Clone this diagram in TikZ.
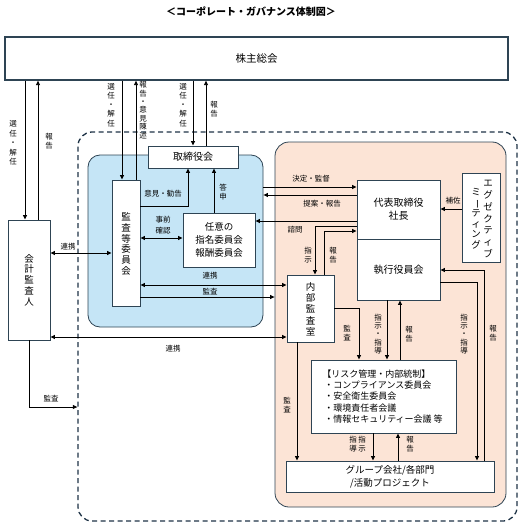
\documentclass[tikz,border=0pt]{standalone}
\usepackage{fontspec}
\setmainfont{Noto Sans CJK JP}
\usetikzlibrary{arrows.meta}
\definecolor{bluefill}{HTML}{C5E5F6}
\definecolor{salmonfill}{HTML}{FCE4D6}
\definecolor{edge}{HTML}{2E4454}
\definecolor{dashc}{HTML}{1E3346}
\newcommand\vlong{\rotatebox[origin=c]{-90}{ー}}
\begin{document}
\begin{tikzpicture}[x=1pt,y=-1pt,
 box/.style={draw=edge, line width=0.9pt, fill=white, inner sep=0pt, align=center, font=\fontsize{9.5}{11}\selectfont},
 region/.style={draw=edge, line width=0.8pt, rounded corners=12pt, inner sep=0pt},
 arr/.style={-{Triangle[length=4.5pt,width=4pt]}, line width=0.9pt},
 darr/.style={{Triangle[length=4.5pt,width=4pt]}-{Triangle[length=4.5pt,width=4pt]}, line width=0.9pt},
 lab/.style={inner sep=0pt, align=center, font=\fontsize{7.5}{9}\selectfont},
 vbox/.style={inner sep=0pt, align=center, font=\fontsize{9.5}{10.8}\selectfont},
]
\useasboundingbox (0,0) rectangle (523,527);

% title
\node[inner sep=0pt, font=\fontsize{10}{12}\selectfont\bfseries] (title) at (251,12) {＜コーポレート・ガバナンス体制図＞};

% regions
\node[region, draw=dashc, line width=1.3pt, dash pattern=on 5pt off 3.5pt, rounded corners=14pt, minimum width=439pt, minimum height=389pt] (dash) at (297.5,326.5) {};
\node[region, fill=bluefill, minimum width=175pt, minimum height=172pt] (blue) at (175.5,241) {};
\node[region, fill=salmonfill, rounded corners=14pt, minimum width=231pt, minimum height=365pt] (salmon) at (390.5,324.5) {};

% boxes
\node[box, line width=1.3pt, font=\fontsize{10.5}{12}\selectfont, minimum width=503pt, minimum height=43pt] (kabu) at (256.5,58.5) {株主総会};
\node[box, minimum width=42pt, minimum height=120pt] (kaikei) at (29,280) {};
\node[vbox] (kaikeit) at (kaikei.center) {会\\計\\監\\査\\人};
\node[box, font=\fontsize{10}{12}\selectfont, minimum width=90pt, minimum height=22pt] (tori) at (193,157) {取締役会};
\node[box, minimum width=28pt, minimum height=126pt] (kansa) at (126,243) {};
\node[vbox] (kansat) at (126,244) {監\\査\\等\\委\\員\\会};
\node[box, font=\fontsize{9.5}{13}\selectfont, minimum width=72pt, minimum height=54pt] (nini) at (219,240) {任意の\\指名委員会\\報酬委員会};
\node[box, font=\fontsize{10}{13}\selectfont, minimum width=83pt, minimum height=59pt] (daihyo) at (398.5,209.5) {代表取締役\\社長};
\node[box, font=\fontsize{10}{12}\selectfont, minimum width=83pt, minimum height=61pt] (shikko) at (398.5,269.5) {執行役員会};
\node[box, minimum width=38pt, minimum height=89pt] (exec) at (481,217.5) {};
\node[vbox, font=\fontsize{9.5}{11.8}\selectfont] (execR) at (488,219) {エ\\グ\\ゼ\\ク\\テ\\ィ\\ブ};
\node[vbox, font=\fontsize{9.5}{10.6}\selectfont] (execL) at (476,218.5) {ミ\\\vlong\\テ\\ィ\\ン\\グ};
\node[box, minimum width=47pt, minimum height=67pt] (naibu) at (310.5,308.5) {};
\node[vbox, font=\fontsize{9.5}{11.3}\selectfont] (naibut) at (310.5,309) {内\\部\\監\\査\\室};
\node[box, align=left, font=\fontsize{9}{11.3}\selectfont, minimum width=145pt, minimum height=73pt] (risk) at (383.5,396.5) {\hspace{-2pt}【リスク管理・内部統制】\\・コンプライアンス委員会\\・安全衛生委員会\\・環境責任者会議\\・情報セキュリティー会議 等};
\node[box, font=\fontsize{9.5}{13}\selectfont, minimum width=208pt, minimum height=31pt] (group) at (390,476.5) {グループ会社/各部門\\/活動プロジェクト};

% connectors: shareholders
\draw[arr] (25,0 |- kabu.south) -- (25,0 |- kaikei.north);
\draw[arr] (38,0 |- kaikei.north) -- (38,0 |- kabu.south);
\draw[arr] (122,0 |- kabu.south) -- (122,0 |- kansa.north);
\draw[arr] (136,0 |- kansa.north) -- (136,0 |- kabu.south);
\draw[arr] (193,0 |- kabu.south) -- (193,0 |- tori.north);
\draw[arr] (206,0 |- tori.north) -- (206,0 |- kabu.south);

% blue area
\draw[arr] (kansa.east |- 0,206) -| (188,0 |- tori.south);
\draw[arr] (214,0 |- nini.north) -- (214,0 |- tori.south);
\draw[darr] (kansa.east |- 0,238) -- (nini.west |- 0,238);
\draw[darr] (kaikei.east |- 0,253) -- (kansa.west |- 0,253);
\draw[darr] (kansa.east |- 0,285) -- (naibu.west |- 0,285);
\draw[arr] (kansa.east |- 0,297) -- (salmon.west |- 0,297);

% president
\draw[arr] (blue.east |- 0,187) -- (daihyo.west |- 0,187);
\draw[arr] (daihyo.west |- 0,195) -- (blue.east |- 0,195);
\draw[arr] (daihyo.west |- 0,221) -- (nini.east |- 0,221);
\draw[arr] (daihyo.west |- 0,226) -| (315,0 |- naibu.north);
\draw[arr] (324,0 |- naibu.north) |- (daihyo.west |- 0,231);
\draw[arr] (exec.west |- 0,209) -- (daihyo.east |- 0,209);

% auditor
\draw[darr] (kaikei.east |- 0,337) -- (naibu.west |- 0,337);
\draw[arr] (29,0 |- kaikei.south) |- (dash.west |- 0,407);

% lower
\draw[arr] (naibu.east |- 0,308) -| (359,0 |- risk.north);
\draw[arr] (387,0 |- shikko.south) -- (387,0 |- risk.north);
\draw[arr] (400,0 |- risk.north) -- (400,0 |- shikko.south);
\draw[arr] (shikko.east |- 0,282) -| (477,0 |- group.north);
\draw[arr] (484,0 |- group.north) |- (shikko.east |- 0,270);
\draw[arr] (373,0 |- risk.south) -- (373,0 |- group.north);
\draw[arr] (398,0 |- group.north) -- (398,0 |- risk.south);
\draw[arr] (297,0 |- naibu.south) -- (297,0 |- group.north);

% labels
\node[lab, font=\fontsize{7.5}{9.5}\selectfont] (l1) at (13,143) {選\\任\\・\\解\\任};
\node[lab] (l2) at (49,141) {報\\告};
\node[lab, font=\fontsize{7.5}{9.2}\selectfont] (l3) at (111,105) {選\\任\\・\\解\\任};
\node[lab, font=\fontsize{7.5}{8.4}\selectfont] (l4) at (143,110) {報\\告\\・\\意\\見\\陳\\述};
\node[lab, font=\fontsize{7.5}{9.2}\selectfont] (l5) at (183,105) {選\\任\\・\\解\\任};
\node[lab] (l6) at (214,109) {報\\告};
\node[lab] (l7) at (163,194) {意見・勧告};
\node[lab] (l8) at (223,192) {答\\申};
\node[lab, font=\fontsize{7.5}{11}\selectfont] (l9) at (163,225) {事前\\確認};
\node[lab] (l10) at (68,247) {連携};
\node[lab] (l11) at (210,276) {連携};
\node[lab] (l12) at (210,292) {監査};
\node[lab] (l13) at (311,179) {決定・監督};
\node[lab] (l14) at (322,204) {提案・報告};
\node[lab] (l15) at (295,230) {諮問};
\node[lab] (l16) at (453,201) {補佐};
\node[lab] (l17) at (308,255) {指\\示};
\node[lab] (l18) at (333,255) {報\\告};
\node[lab] (l19) at (173,349) {連携};
\node[lab] (l20) at (51,399) {監査};
\node[lab] (l21) at (347,333) {監\\査};
\node[lab, font=\fontsize{7.5}{8.2}\selectfont] (l22) at (378,334) {指\\示\\・\\指\\導};
\node[lab] (l23) at (409,334) {報\\告};
\node[lab, font=\fontsize{7.5}{8.2}\selectfont] (l24) at (464,334) {指\\示\\・\\指\\導};
\node[lab] (l25) at (493,333) {報\\告};
\node[lab] (l26) at (287,405) {監\\査};
\node[lab, font=\fontsize{7.5}{8.5}\selectfont] (l27) at (357.5,444) {指\hspace{1.5pt}指\\導\hspace{1.5pt}示};
\node[lab, font=\fontsize{7.5}{8.5}\selectfont] (l28) at (410,444) {報\\告};
\end{tikzpicture}
\end{document}
